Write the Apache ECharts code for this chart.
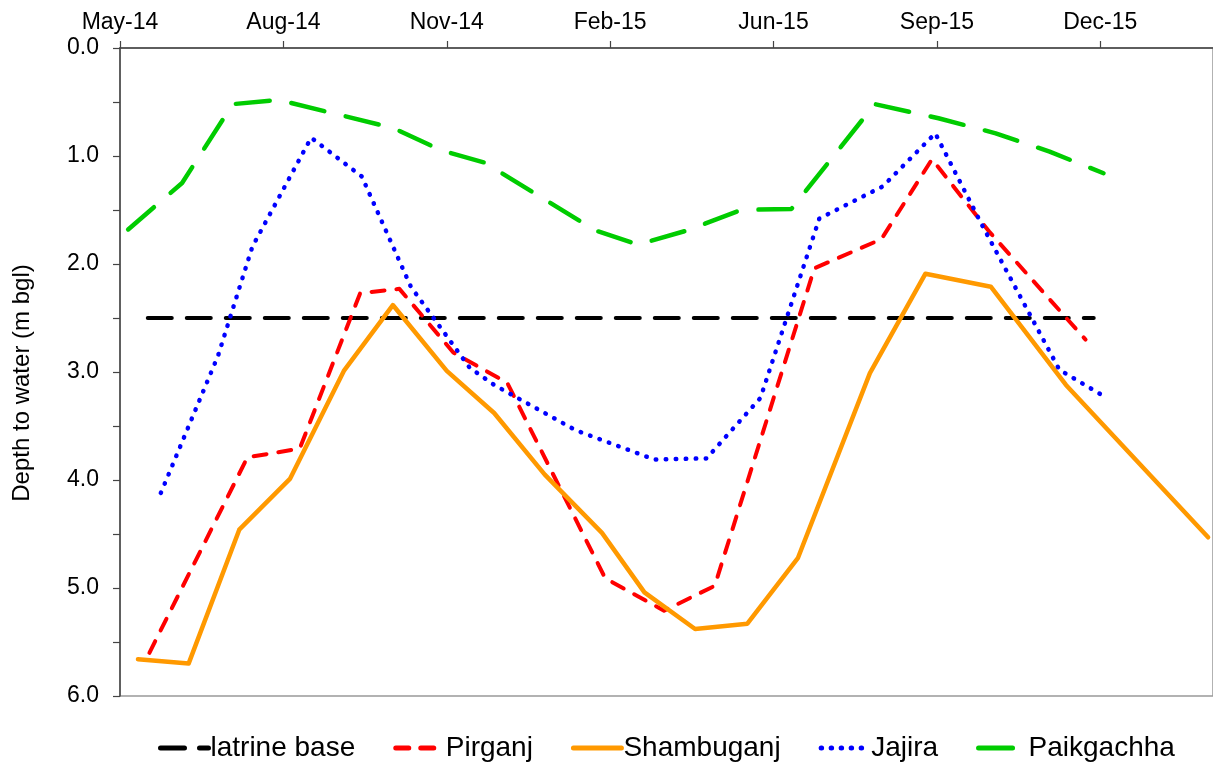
<!DOCTYPE html>
<html>
<head>
<meta charset="utf-8">
<title>Depth to water</title>
<script src="https://cdn.jsdelivr.net/npm/echarts@6/dist/echarts.min.js"></script>
<style>
  html, body { margin: 0; padding: 0; background: #fff; }
  #chart { width: 1213px; height: 764px; }
</style>
</head>
<body>
<div id="chart"></div>
<script>
// x values are days counted from 1 May 2014, ticks every 100 days
const tickLabels = ['May-14', 'Aug-14', 'Nov-14', 'Feb-15', 'Jun-15', 'Sep-15', 'Dec-15'];

const latrineDays = [17, 596];
const latrineDepth = [2.5, 2.5];

const pirganjDays = [18, 78, 110, 147, 171, 204, 237, 297, 333, 364, 425, 466, 497, 532, 591];
const pirganjDepth = [5.60, 3.79, 3.71, 2.27, 2.23, 2.82, 3.10, 4.91, 5.21, 4.98, 2.04, 1.77, 1.03, 1.70, 2.70];

const shambuganjDays = [11, 42, 73, 104, 137, 167, 200, 229, 260, 295, 321, 352, 384, 415, 459, 493, 533, 579, 666];
const shambuganjDepth = [5.66, 5.70, 4.46, 3.99, 2.99, 2.38, 2.99, 3.38, 3.95, 4.49, 5.04, 5.38, 5.33, 4.72, 3.01, 2.09, 2.21, 3.12, 4.53];

const jajiraDays = [25, 60, 81, 117, 148, 178, 214, 229, 279, 327, 359, 392, 428, 467, 499, 528, 575, 604];
const jajiraDepth = [4.12, 2.85, 1.84, 0.83, 1.19, 2.21, 2.96, 3.12, 3.54, 3.81, 3.80, 3.24, 1.58, 1.28, 0.79, 1.65, 2.98, 3.24];

const paikgachhaDays = [5, 38, 69, 97, 167, 197, 223, 291, 317, 347, 380, 411, 462, 501, 536, 569, 602];
const paikgachhaDepth = [1.68, 1.25, 0.52, 0.48, 0.74, 0.95, 1.06, 1.69, 1.82, 1.69, 1.50, 1.49, 0.52, 0.65, 0.79, 0.96, 1.16];

const font = '"Liberation Sans", Arial, sans-serif';

function pairs(days, depth) {
  return days.map((d, i) => [d, depth[i]]);
}

function lineSeries(name, days, depth, color, width, dash) {
  return {
    name: name,
    type: 'line',
    data: pairs(days, depth),
    symbol: 'none',
    showSymbol: false,
    smooth: false,
    lineStyle: { color: color, width: width, type: dash, cap: 'round', join: 'round' },
    itemStyle: { color: color }
  };
}

const chart = echarts.init(document.getElementById('chart'));

const options = {
  animation: false,
  tooltip: { show: false },
  grid: {
    left: 120,
    top: 48,
    right: -2,
    bottom: 68,
    show: true,
    borderColor: '#999',
    borderWidth: 1.5
  },
  legend: {
    left: 153,
    top: 729,
    itemWidth: 48,
    itemHeight: 14,
    itemGap: 38,
    // hide the dot ECharts puts on line legend icons, keep only the line
    itemStyle: { opacity: 0 },
    lineStyle: { width: 5 },
    textStyle: { fontFamily: font, fontSize: 28, color: '#000', padding: [0, 0, 0, -3] },
    data: ['latrine base', 'Pirganj', 'Shambuganj', 'Jajira', 'Paikgachha']
  },
  xAxis: {
    type: 'value',
    position: 'top',
    min: 0,
    max: 669,
    interval: 100,
    axisLine: { show: true, lineStyle: { color: '#444', width: 1.5 } },
    axisTick: { show: true, inside: false, length: 7, lineStyle: { color: '#444', width: 1.2 } },
    axisLabel: {
      margin: 14,
      showMaxLabel: false,
      fontFamily: font,
      fontSize: 23,
      color: '#000',
      formatter: (v) => (v % 100 === 0 ? (tickLabels[v / 100] || '') : '')
    },
    splitLine: { show: false }
  },
  yAxis: {
    type: 'value',
    inverse: true,
    min: 0,
    max: 6,
    interval: 0.5,
    name: 'Depth to water (m bgl)',
    nameLocation: 'middle',
    nameRotate: 90,
    nameGap: 86,
    nameTextStyle: { fontFamily: font, fontSize: 24, color: '#000', padding: [0, 22, 0, 0] },
    axisLine: { show: true, lineStyle: { color: '#444', width: 1.5 } },
    axisTick: { show: true, inside: false, length: 7, lineStyle: { color: '#444', width: 1.2 } },
    axisLabel: {
      margin: 21,
      fontFamily: font,
      fontSize: 23,
      color: '#000',
      formatter: (v) => (Math.abs(v - Math.round(v)) < 1e-6 ? v.toFixed(1) : '')
    },
    splitLine: { show: false }
  },
  series: [
    lineSeries('latrine base', latrineDays, latrineDepth, '#000000', 4, [24, 15]),
    lineSeries('Pirganj', pirganjDays, pirganjDepth, '#ff0000', 4, [13, 12]),
    lineSeries('Shambuganj', shambuganjDays, shambuganjDepth, '#ff9900', 4.5, 'solid'),
    lineSeries('Jajira', jajiraDays, jajiraDepth, '#0000ff', 4.5, [0.5, 9.5]),
    lineSeries('Paikgachha', paikgachhaDays, paikgachhaDepth, '#00cc00', 4.5, [34, 22])
  ]
};

chart.setOption(options);
</script>
</body>
</html>
